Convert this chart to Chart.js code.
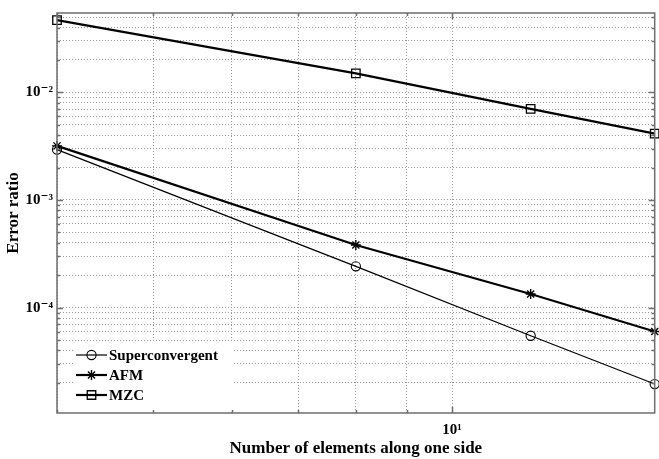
<!DOCTYPE html>
<html><head><meta charset="utf-8">
<script src="https://cdn.jsdelivr.net/npm/chart.js@4.4.0/dist/chart.umd.min.js"></script>
<style>
html,body{margin:0;padding:0;background:#fff;overflow:hidden;width:659px;height:459px}
#wrap{width:662px;height:459px;position:relative}
</style>
</head><body><div id="wrap"><canvas id="c" width="662" height="459"></canvas></div>
<script>
// ---- data ----
const elements = [4, 8, 12, 16];
const superconvergent = [2.94e-3, 2.42e-4, 5.48e-5, 1.95e-5];
const afm = [3.18e-3, 3.82e-4, 1.34e-4, 6.0e-5];
const mzc = [4.68e-2, 1.50e-2, 7.02e-3, 4.13e-3];
const seriesNames = ['Superconvergent', 'AFM', 'MZC'];

// ---- axes / ticks ----
const xGridValues = [4, 5, 6, 7, 8, 9, 10];
const xMajorValues = [10];
const xMajorLabels = ['10\u00B9'];
const yGridValues = [
  2e-5, 3e-5, 4e-5, 5e-5, 6e-5, 7e-5, 8e-5, 9e-5,
  1e-4, 2e-4, 3e-4, 4e-4, 5e-4, 6e-4, 7e-4, 8e-4, 9e-4,
  1e-3, 2e-3, 3e-3, 4e-3, 5e-3, 6e-3, 7e-3, 8e-3, 9e-3,
  1e-2, 2e-2, 3e-2, 4e-2, 5e-2
];
const yMajorValues = [1e-4, 1e-3, 1e-2];
const yMajorLabels = ['10\u207B\u2074', '10\u207B\u00B3', '10\u207B\u00B2'];
const xMin = 4, xMax = 16, yMin = 1.05e-5, yMax = 0.0546;

const serif = "'Liberation Serif','DejaVu Serif','Times New Roman',serif";
const near = (a, b) => Math.abs(Math.log10(a) - Math.log10(b)) < 1e-6;

function pts(ys) { return elements.map((x, i) => ({x: x, y: ys[i]})); }

const boxPlugin = {
  id: 'matlabBox',
  afterDatasetsDraw(chart) {
    const ctx = chart.ctx;
    // legend (inside the axes, lower left)
    const lx = 75, ly = 341, lw = 158, lh = 69;
    ctx.save();
    ctx.fillStyle = '#fff';
    ctx.fillRect(lx, ly, lw, lh);
    const rows = [355, 375, 395];
    chart.data.datasets.forEach((ds, i) => {
      const y = rows[i];
      ctx.strokeStyle = '#000';
      ctx.lineWidth = ds.borderWidth;
      ctx.beginPath(); ctx.moveTo(76, y); ctx.lineTo(107, y); ctx.stroke();
      ctx.fillStyle = 'rgba(0,0,0,0)';
      ctx.lineWidth = ds.pointBorderWidth;
      Chart.helpers.drawPoint(ctx, {pointStyle: ds.pointStyle, radius: ds.pointRadius, rotation: 0, borderWidth: ds.pointBorderWidth}, 91.5, y);
      ctx.fillStyle = '#000';
      ctx.font = 'bold 15px ' + serif;
      ctx.textBaseline = 'middle';
      ctx.textAlign = 'left';
      ctx.fillText(ds.label, 109, y + 1);
    });
    ctx.restore();
  },
  afterDraw(chart) {
    const ctx = chart.ctx, a = chart.chartArea;
    ctx.save();
    ctx.strokeStyle = '#6e6e6e';
    ctx.lineWidth = 1.5;
    const ys = chart.scales.y, xs = chart.scales.x;
    ctx.beginPath();
    ys.ticks.forEach(t => {
      const p = Math.round(ys.getPixelForValue(t.value)) + 0.5;
      const L = yMajorValues.some(v => near(v, t.value)) ? 6 : 3;
      ctx.moveTo(a.left, p); ctx.lineTo(a.left + L, p);
      ctx.moveTo(a.right, p); ctx.lineTo(a.right - L, p);
    });
    xs.ticks.forEach(t => {
      const p = Math.round(xs.getPixelForValue(t.value)) + 0.5;
      const L = xMajorValues.some(v => near(v, t.value)) ? 6 : 3;
      ctx.moveTo(p, a.bottom); ctx.lineTo(p, a.bottom - L);
      ctx.moveTo(p, a.top); ctx.lineTo(p, a.top + L);
    });
    ctx.stroke();
    ctx.strokeRect(a.left, a.top, a.right - a.left, a.bottom - a.top);
    ctx.restore();
  }
};

new Chart(document.getElementById('c'), {
  type: 'line',
  data: {
    datasets: [
      {label: seriesNames[0], data: pts(superconvergent), borderColor: '#000', borderWidth: 1.2,
       pointStyle: 'circle', pointRadius: 4.6, pointBorderWidth: 1.1, pointBorderColor: '#000',
       pointBackgroundColor: 'rgba(0,0,0,0)', tension: 0, clip: false},
      {label: seriesNames[1], data: pts(afm), borderColor: '#000', borderWidth: 2.2,
       pointStyle: 'star', pointRadius: 5, pointBorderWidth: 1.4, pointBorderColor: '#000',
       pointBackgroundColor: 'rgba(0,0,0,0)', tension: 0, clip: false},
      {label: seriesNames[2], data: pts(mzc), borderColor: '#000', borderWidth: 2.2,
       pointStyle: 'rect', pointRadius: 6, pointBorderWidth: 1.3, pointBorderColor: '#000',
       pointBackgroundColor: 'rgba(0,0,0,0)', tension: 0, clip: false}
    ]
  },
  options: {
    responsive: false,
    animation: false,
    events: [],
    layout: {padding: {top: 10, right: 3, left: 0, bottom: 0}},
    plugins: {legend: {display: false}, tooltip: {enabled: false}},
    scales: {
      x: {
        type: 'logarithmic', min: xMin, max: xMax, position: 'bottom',
        afterBuildTicks: s => { s.ticks = xGridValues.map(v => ({value: v})); },
        afterFit: s => { s.height = 46; },
        ticks: {
          autoSkip: false, maxRotation: 0, padding: 8, color: '#000',
          font: {family: serif, weight: 'bold', size: 15},
          callback: v => { const i = xMajorValues.findIndex(m => near(m, v)); return i >= 0 ? xMajorLabels[i] : ''; }
        },
        grid: {drawTicks: false, color: '#9a9a9a', lineWidth: 1},
        border: {display: false, dash: [1, 2]},
        title: {display: true, text: 'Number of elements along one side', color: '#000',
                font: {family: serif, weight: 'bold', size: 17}, padding: {top: 0, bottom: 0}}
      },
      y: {
        type: 'logarithmic', min: yMin, max: yMax, position: 'left',
        afterBuildTicks: s => { s.ticks = yGridValues.map(v => ({value: v})); },
        afterFit: s => { s.width = 57; },
        ticks: {
          autoSkip: false, padding: 4, color: '#000',
          font: {family: serif, weight: 'bold', size: 15},
          callback: v => { const i = yMajorValues.findIndex(m => near(m, v)); return i >= 0 ? yMajorLabels[i] : ''; }
        },
        grid: {drawTicks: false, color: '#9a9a9a', lineWidth: 1},
        border: {display: false, dash: [1, 2]},
        title: {display: true, text: 'Error ratio', color: '#000',
                font: {family: serif, weight: 'bold', size: 17}, padding: {top: 3, bottom: 0}}
      }
    }
  },
  plugins: [boxPlugin]
});
</script>
</body></html>
